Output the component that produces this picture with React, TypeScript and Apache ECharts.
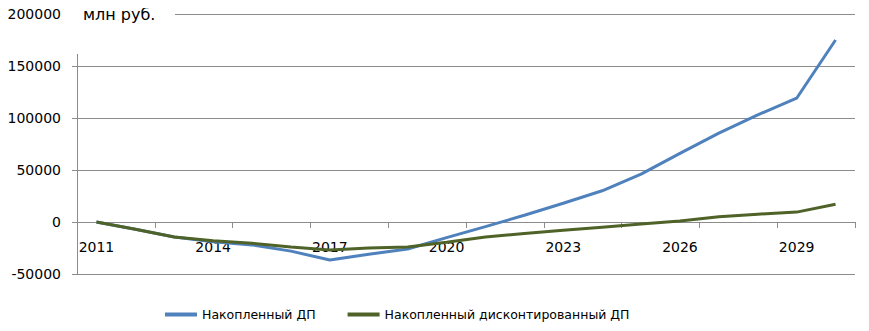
import React, { useEffect, useRef } from "react";
import * as echarts from "echarts";

const years = ["2011","2012","2013","2014","2015","2016","2017","2018","2019","2020","2021","2022","2023","2024","2025","2026","2027","2028","2029","2030"];
const cumulative = [0, -7000, -14500, -19000, -22000, -28000, -36500, -31000, -26000, -15000, -4500, 6500, 18000, 30000, 46000, 66000, 85500, 103000, 119000, 175000];
const cumulativeDiscounted = [0, -7000, -14500, -18000, -20500, -24000, -27000, -25000, -24000, -19500, -14500, -11000, -8000, -5000, -2000, 1000, 5000, 7500, 9500, 17000];
const seriesNames = ["Накопленный ДП", "Накопленный дисконтированный ДП"];
const unitLabel = "млн руб.";

export default function App() {
  const ref = useRef<HTMLDivElement>(null);
  useEffect(() => {
    if (!ref.current) return;
    const chart = echarts.init(ref.current, null, { renderer: "svg" });
    const font = "DejaVu Sans";
    chart.setOption({
      animation: false,
      backgroundColor: "#ffffff",
      grid: { left: 77, right: 14, top: 14, bottom: 57, containLabel: false },
      legend: {
        left: 160,
        top: 303,
        itemWidth: 32,
        itemHeight: 4,
        itemGap: 32,
        icon: "rect",
        textStyle: { fontFamily: font, fontSize: 12.5, color: "#000" },
        data: seriesNames,
      },
      xAxis: {
        type: "category",
        data: years,
        boundaryGap: true,
        position: "bottom",
        offset: -52,
        axisLine: { onZero: false, lineStyle: { color: "#8c8c8c", width: 1 } },
        axisTick: { show: true, interval: 1, length: 6, lineStyle: { color: "#8c8c8c" } },
        axisLabel: { interval: 2, margin: 18, fontFamily: font, fontSize: 14, color: "#000" },
        splitLine: { show: false },
      },
      yAxis: {
        type: "value",
        min: -50000,
        max: 200000,
        interval: 50000,
        axisLine: { show: true, lineStyle: { color: "#8c8c8c", width: 1 } },
        axisTick: { show: true, length: 5, lineStyle: { color: "#8c8c8c" } },
        axisLabel: { margin: 16, fontFamily: font, fontSize: 14, color: "#000", formatter: (v: number) => String(v) },
        splitLine: { show: true, lineStyle: { color: "#8c8c8c", width: 1 } },
      },
      graphic: [
        { type: "rect", z: 100, shape: { x: 70, y: 0, width: 105, height: 54 }, style: { fill: "#ffffff" } },
        { type: "text", z: 101, x: 83, y: 14, style: { text: unitLabel, fontFamily: font, fontSize: 16, fill: "#000", verticalAlign: "middle" } },
      ],
      series: [
        {
          name: seriesNames[0],
          type: "line",
          data: cumulative,
          symbol: "none",
          lineStyle: { color: "#4F81BD", width: 3 },
          itemStyle: { color: "#4F81BD" },
          z: 2,
        },
        {
          name: seriesNames[1],
          type: "line",
          data: cumulativeDiscounted,
          symbol: "none",
          lineStyle: { color: "#4F6228", width: 3 },
          itemStyle: { color: "#4F6228" },
          z: 3,
        },
      ],
    });
    return () => chart.dispose();
  }, []);
  return <div ref={ref} style={{ width: 869, height: 331, margin: -8 }} />;
}
